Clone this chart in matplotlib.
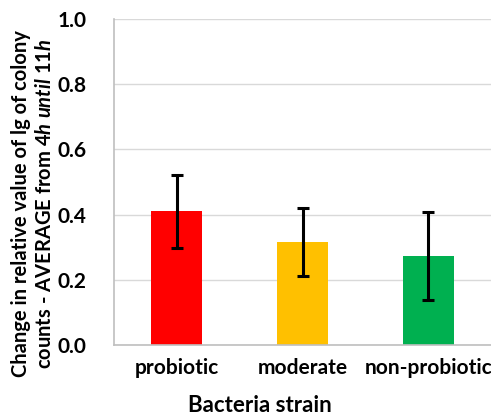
import matplotlib
matplotlib.use("Agg")
import matplotlib.pyplot as plt

categories = ["probiotic", "moderate", "non-probiotic"]
values = [0.411, 0.316, 0.273]
errors = [0.112, 0.103, 0.136]
colors = ["#ff0000", "#ffc000", "#00b050"]
yticks = [0.0, 0.2, 0.4, 0.6, 0.8, 1.0]

plt.rcParams['font.family'] = ['Lato', 'DejaVu Sans']
plt.rcParams['font.weight'] = 'bold'
plt.rcParams['mathtext.fontset'] = 'custom'
plt.rcParams['mathtext.it'] = 'Lato:italic:bold'
plt.rcParams['mathtext.rm'] = 'Lato:bold'

fig = plt.figure(figsize=(4.91, 4.16), dpi=100)
ax = fig.add_axes([114/491, 71/416, 1 - 114/491, (345-19)/416])

x = list(range(len(categories)))
ax.bar(x, values, width=0.406, color=colors, zorder=2)
ax.errorbar(x, values, yerr=errors, fmt='none', ecolor='black', elinewidth=2.2,
            capsize=4, capthick=2.2, zorder=3)

ax.set_xlim(-0.5, 2.5)
ax.set_ylim(0, 1.0)
ax.set_yticks(yticks)
ax.set_yticklabels([f"{t:.1f}" for t in yticks], fontsize=15, fontweight='bold')
ax.set_xticks(x)
ax.set_xticklabels(categories, fontsize=15, fontweight='bold')
ax.tick_params(axis='both', length=0, pad=9)
ax.tick_params(axis='y', pad=20)
ax.yaxis.grid(True, color='#d9d9d9', linewidth=1, zorder=0)
ax.set_axisbelow(True)
for s in ['top', 'right']:
    ax.spines[s].set_visible(False)
for s in ['left', 'bottom']:
    ax.spines[s].set_color('#bfbfbf')
    ax.spines[s].set_linewidth(1.2)

fig.text(21/491, 1 - 204/416, "Change in relative value of lg of colony",
         rotation=90, ha='center', va='center', fontsize=14.5, fontweight='bold')
fig.text(45/491, 1 - 204/416, r"counts - AVERAGE from $\mathit{4h\ until\ 11h}$",
         rotation=90, ha='center', va='center', fontsize=14.5, fontweight='bold')
fig.text(260/491, 1 - 405/416, "Bacteria strain", ha='center', va='center',
         fontsize=16, fontweight='bold')

fig.savefig("out.png", dpi=100)
